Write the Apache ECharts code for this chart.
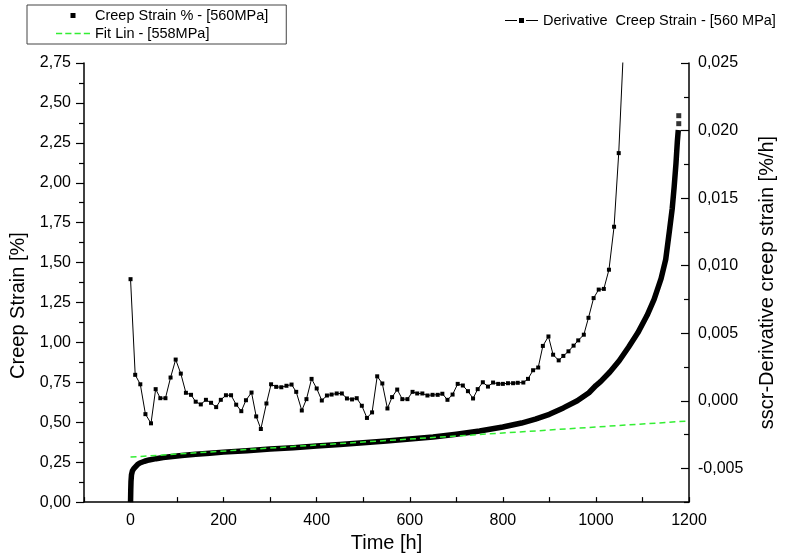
<!DOCTYPE html>
<html>
<head>
<meta charset="utf-8">
<script src="https://cdn.jsdelivr.net/npm/echarts@6.0.0/dist/echarts.min.js"></script>
<style>
  html, body { margin: 0; padding: 0; background: #fff; }
  #main { width: 785px; height: 558px; }
</style>
</head>
<body>
<div id="main"></div>
<script>
// creep strain curve [h] / [%]
var creepTime = [0, 0.5, 1, 2, 4, 7, 10, 15, 20, 30, 40, 55, 70, 90, 110, 140, 170, 200, 250, 300,
    350, 400, 450, 500, 550, 600, 650, 700, 750, 800, 840, 870, 900, 930, 960, 985, 1000, 1010, 1030, 1050,
    1070, 1090, 1110, 1125, 1140, 1150, 1158, 1164, 1168, 1172, 1175, 1177];
var creepStrain = [0, 0.08, 0.13, 0.17, 0.195, 0.21, 0.222, 0.235, 0.245, 0.256, 0.264, 0.272, 0.279, 0.286, 0.292, 0.299, 0.306, 0.313, 0.322, 0.332,
    0.341, 0.351, 0.36, 0.372, 0.383, 0.395, 0.408, 0.425, 0.445, 0.47, 0.495, 0.52, 0.55, 0.59, 0.635, 0.685, 0.73, 0.755, 0.815, 0.885,
    0.97, 1.06, 1.17, 1.27, 1.40, 1.52, 1.70, 1.84, 1.97, 2.12, 2.26, 2.33];
// last loose points at the top
var tailTime = [1178, 1178];
var tailStrain = [2.37, 2.42];

// linear fit
var fitTime = [0, 1200];
var fitStrain = [0.282, 0.508];

// derivative [%/h]
var derivTime = [0, 10, 21, 32, 44, 54, 64, 75, 86, 97,
    108, 119, 130, 140, 151, 162, 173, 184, 194, 205,
    216, 227, 238, 248, 260, 270, 280, 292, 302, 313,
    324, 335, 346, 356, 368, 378, 389, 400, 411, 422,
    432, 443, 454, 465, 476, 486, 497, 508, 519, 530,
    541, 552, 562, 573, 584, 595, 606, 616, 627, 638,
    649, 660, 670, 681, 692, 703, 714, 725, 736, 746,
    757, 768, 779, 790, 800, 811, 822, 832, 844, 854,
    865, 876, 886, 898, 908, 920, 930, 941, 952, 962,
    974, 984, 995, 1006, 1017, 1028, 1039, 1049, 1060];
var derivValue = [0.0090, 0.00192, 0.00122, -0.00099, -0.00167, 0.00086, 0.00019, 0.00019, 0.00172, 0.00305,
    0.00201, 0.00059, 0.00044, -0.00007, -0.00027, 0.00007, -0.00015, -0.00047, 0.00007, 0.00041,
    0.00041, -0.00029, -0.00077, 0.00004, 0.00061, -0.00116, -0.00209, -0.0002, 0.00122, 0.00103,
    0.001, 0.00111, 0.0012, 0.00066, -0.00072, 0.00012, 0.00162, 0.00091, 0.00002, 0.00039,
    0.00046, 0.00054, 0.00054, 0.00017, 0.0001, 0.00019, -0.00037, -0.00127, -0.00086, 0.00181,
    0.00128, -0.00057, 0.00027, 0.00083, 0.00012, 0.00012, 0.00066, 0.00054, 0.00054, 0.00039,
    0.00044, 0.00044, 0.00052, 0.00007, 0.00046, 0.00125, 0.00113, 0.00071, 0.00017, 0.00086,
    0.00137, 0.00105, 0.00135, 0.00125, 0.00125, 0.0013, 0.0013, 0.00133, 0.00135, 0.00162,
    0.00226, 0.00246, 0.00406, 0.00476, 0.00341, 0.00299, 0.00332, 0.00366, 0.00408, 0.00447,
    0.00489, 0.00614, 0.0076, 0.00823, 0.00828, 0.0097, 0.01288, 0.01833, 0.0267];

// right axis ticks
var rightMajor = [-0.005, 0, 0.005, 0.01, 0.015, 0.02, 0.025];
var rightMinor = [-0.0075, -0.0025, 0.0025, 0.0075, 0.0125, 0.0175, 0.0225];

function zip(a, b) {
    var out = [];
    for (var i = 0; i < a.length; i++) out.push([a[i], b[i]]);
    return out;
}

var FONT = 'Liberation Sans';
var nameCreep = 'Creep Strain % - [560MPa]';
var nameFit = 'Fit Lin - [558MPa]';
var nameDeriv = 'Derivative  Creep Strain - [560 MPa]';

var myChart = echarts.init(document.getElementById('main'));

var option = {
    backgroundColor: '#fff',
    animation: false,
    textStyle: { fontFamily: FONT, color: '#000' },
    grid: { left: 83, right: 93, top: 63, bottom: 54 },
    legend: [{
        orient: 'vertical',
        left: 27,
        top: 5,
        padding: [3, 18, 3, 29],
        borderColor: '#444',
        borderWidth: 1,
        itemWidth: 34,
        itemHeight: 5,
        itemGap: 3,
        textStyle: { fontSize: 14.5, color: '#000', fontFamily: FONT },
        data: [
            { name: nameCreep, icon: 'path://M0,0h1v1h-1z' },
            { name: nameFit, icon: 'path://M0,0h6v1.5h-6z M9,0h6v1.5h-6z M18,0h6v1.5h-6z M27,0h6v1.5h-6z' }
        ]
    }, {
        left: 505,
        top: 13,
        padding: 0,
        itemWidth: 33,
        itemHeight: 5,
        textStyle: { fontSize: 14.5, color: '#000', fontFamily: FONT },
        data: [{ name: nameDeriv, icon: 'path://M0,2h12v1h-12z M14,0h5v5h-5z M21,2h12v1h-12z' }]
    }],
    xAxis: {
        type: 'value',
        min: -100,
        max: 1200,
        interval: 100,
        name: 'Time [h]',
        nameLocation: 'middle',
        nameGap: 27,
        nameTextStyle: { fontSize: 20, color: '#000', fontFamily: FONT },
        axisLine: { onZero: false, lineStyle: { color: '#000', width: 1.5 } },
        axisTick: { inside: true, length: 5, lineStyle: { color: '#000', width: 1.2 } },
        axisLabel: {
            margin: 10,
            fontSize: 16,
            color: '#000',
            formatter: function (v) { return v % 200 === 0 ? String(v) : ''; }
        },
        splitLine: { show: false }
    },
    yAxis: [{
        type: 'value',
        position: 'left',
        min: 0,
        max: 2.75,
        interval: 0.25,
        name: 'Creep Strain [%]',
        nameLocation: 'middle',
        nameRotate: 90,
        nameGap: 56,
        nameTextStyle: { fontSize: 20, color: '#000', fontFamily: FONT, padding: [0, 46, 0, 0] },
        axisLine: { show: true, onZero: false, lineStyle: { color: '#000', width: 1.5 } },
        axisTick: { show: true, inside: false, length: 8, lineStyle: { color: '#000', width: 1.2 } },
        minorTick: { show: true, splitNumber: 2, length: 5, lineStyle: { color: '#000', width: 1.2 } },
        axisLabel: {
            margin: 13,
            fontSize: 16,
            color: '#000',
            formatter: function (v) { return v.toFixed(2).replace('.', ','); }
        },
        splitLine: { show: false }
    }, {
        type: 'value',
        position: 'right',
        min: -0.0075,
        max: 0.025,
        name: 'sscr-Derivative creep strain [%/h]',
        nameLocation: 'middle',
        nameRotate: 90,
        nameGap: 68,
        nameTextStyle: { fontSize: 20, color: '#000', fontFamily: FONT },
        axisLine: { show: true, onZero: false, lineStyle: { color: '#000', width: 1.5 } },
        axisTick: { show: true, inside: true, length: 8, customValues: rightMajor, lineStyle: { color: '#000', width: 1.2 } },
        axisLabel: {
            margin: 9,
            fontSize: 16,
            color: '#000',
            customValues: rightMajor,
            formatter: function (v) { return v.toFixed(3).replace('.', ','); }
        },
        splitLine: { show: false }
    }, {
        type: 'value',
        position: 'right',
        min: -0.0075,
        max: 0.025,
        axisLine: { show: false, onZero: false },
        axisTick: { show: true, inside: true, length: 5, customValues: rightMinor, lineStyle: { color: '#000', width: 1.2 } },
        axisLabel: { show: false },
        splitLine: { show: false }
    }],
    series: [{
        name: nameCreep,
        type: 'line',
        yAxisIndex: 0,
        data: zip(creepTime, creepStrain),
        showSymbol: false,
        symbol: 'none',
        itemStyle: { color: '#000' },
        lineStyle: { color: '#000', width: 5.5, join: 'round' },
        z: 2
    }, {
        name: nameCreep,
        type: 'scatter',
        yAxisIndex: 0,
        data: zip(tailTime, tailStrain),
        symbol: 'rect',
        symbolSize: 5,
        itemStyle: { color: '#000' },
        z: 2
    }, {
        name: nameFit,
        type: 'line',
        yAxisIndex: 0,
        data: zip(fitTime, fitStrain),
        symbol: 'none',
        itemStyle: { color: '#33ee33' },
        lineStyle: { color: '#33ee33', width: 1.5, type: [6, 4] },
        z: 3
    }, {
        name: nameDeriv,
        type: 'line',
        yAxisIndex: 1,
        data: zip(derivTime, derivValue),
        symbol: 'rect',
        symbolSize: 4,
        showSymbol: true,
        itemStyle: { color: '#000' },
        lineStyle: { color: '#000', width: 1 },
        z: 4
    }]
};

myChart.setOption(option);
</script>
</body>
</html>
